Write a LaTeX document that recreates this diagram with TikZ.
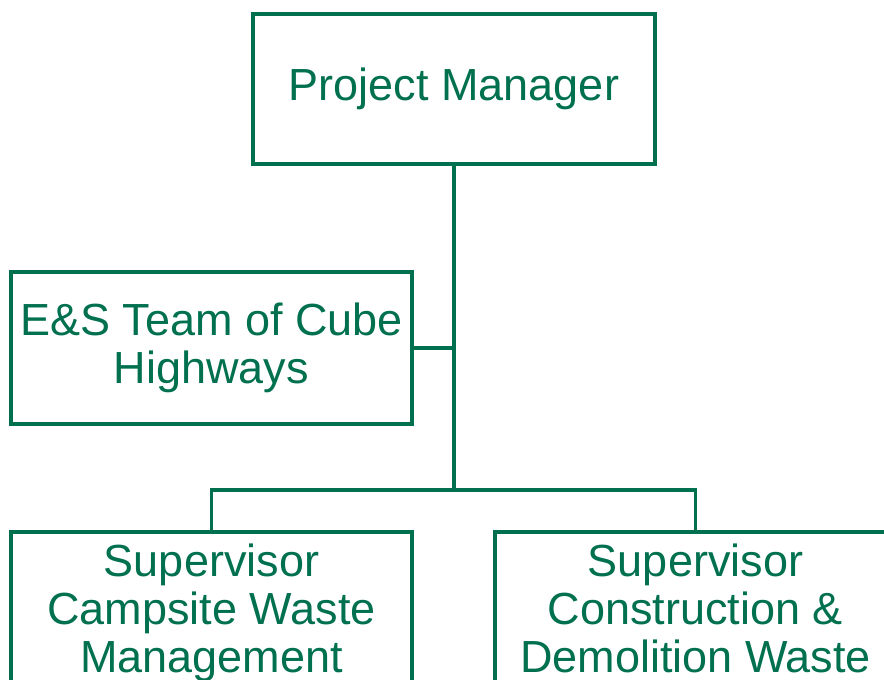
\documentclass[tikz,border=0pt]{standalone}
\usepackage{fontspec}
\setmainfont{Liberation Sans}
\definecolor{pine}{HTML}{00704F}
\usepackage{tikz}
\usetikzlibrary{calc, positioning}

\begin{document}
\begin{tikzpicture}[x=1pt, y=-1pt,
  orgbox/.style={draw=pine, line width=3.5pt, text=pine, align=center,
    inner sep=0pt, outer sep=0pt, font=\fontsize{45}{48}\selectfont},
  orgline/.style={draw=pine, line width=3.5pt}]
  \useasboundingbox (0,0) rectangle (884,680);
  \clip (0,0) rectangle (884,680);

  \node[orgbox, minimum width=402pt, minimum height=150pt] (pm) at (454,89) {Project Manager};
  \node[orgbox, minimum width=401pt, minimum height=152pt] (es) at (211.5,348) {E\&S Team of Cube\\Highways};
  % bottom row runs off the page
  \node[orgbox, anchor=north, minimum width=401pt, minimum height=170pt, inner ysep=12pt, text depth=40pt] (camp) at (211.5,532) {Supervisor\\Campsite Waste\\Management};
  \node[orgbox, anchor=north, minimum width=401pt, minimum height=170pt, inner ysep=12pt, text depth=40pt] (cdw) at (695.5,532) {Supervisor\\Construction \&\\Demolition Waste};

  % connectors
  \coordinate (hub) at (pm.south |- 0,490);
  \draw[orgline] (pm.south) -- (hub);
  \draw[orgline] (es.east) -- (es.east -| pm.south);
  \draw[orgline] (camp.north) |- (hub) -| (cdw.north);
\end{tikzpicture}
\end{document}
